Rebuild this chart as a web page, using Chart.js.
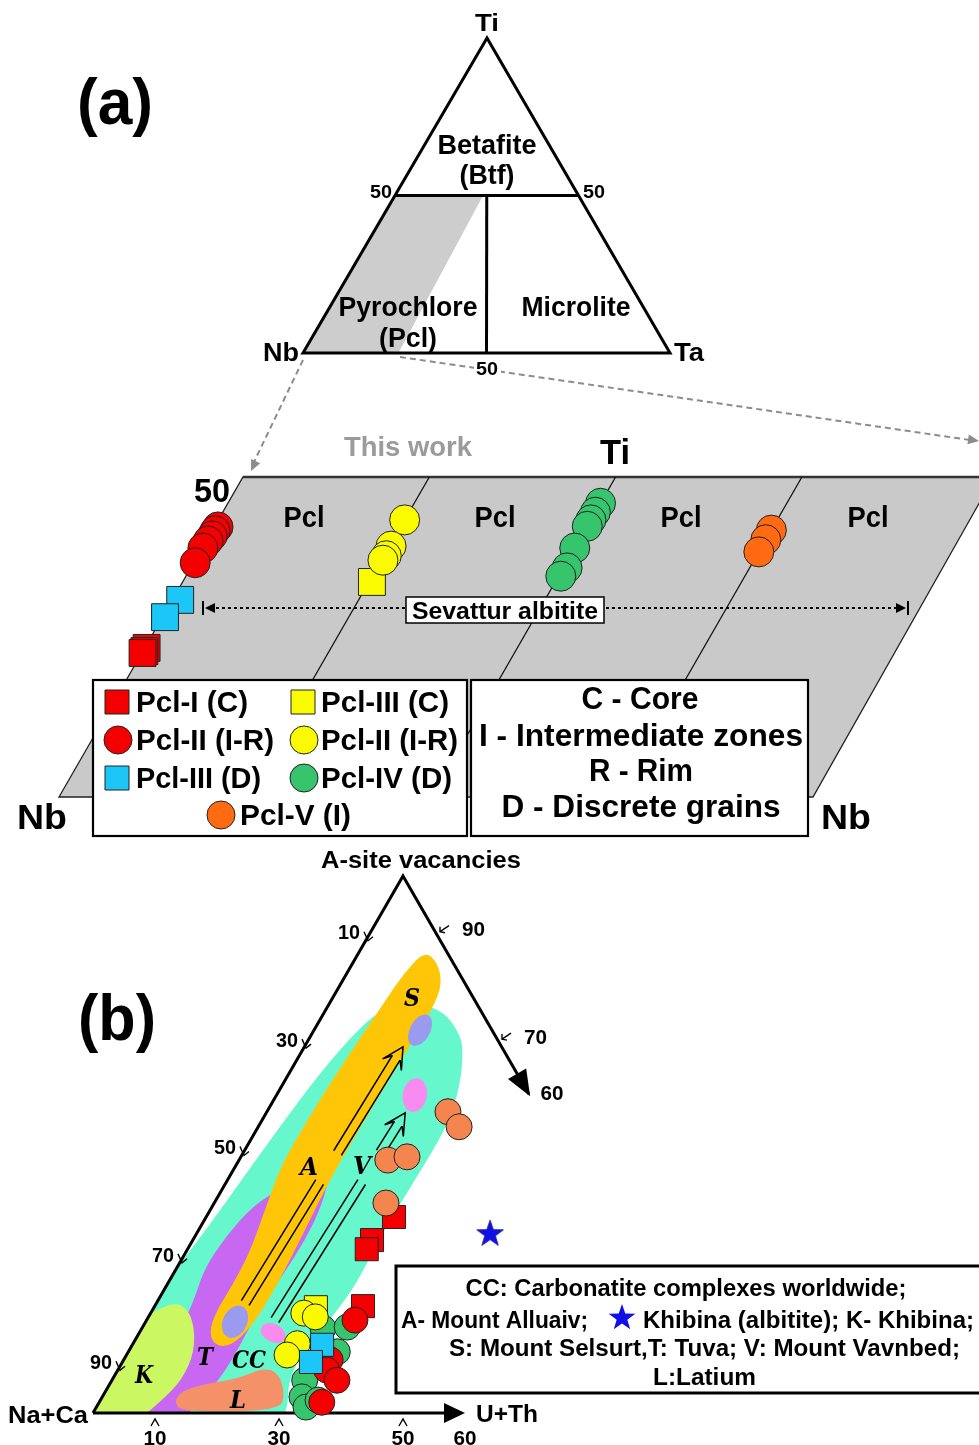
<!DOCTYPE html>
<html lang="en">
<head>
<meta charset="utf-8">
<title>Pyrochlore compositions – Sevattur albitite</title>
<script src="https://cdn.jsdelivr.net/npm/chart.js@4.4.1/dist/chart.umd.min.js"></script>
<style>
  html, body { margin: 0; padding: 0; background: #ffffff; }
  canvas { display: block; }
</style>
</head>
<body>
<canvas id="fig" width="979" height="1445" style="width:979px;height:1445px"></canvas>
<script>
// ================= DATA =================
// (a) Ti–Nb–Ta classification: pyrochlore field boundary (Ti %, Ta %)
const pclField_ti = [0, 50, 50, 0];
const pclField_ta = [0, 0, 24, 26];

// (a) Sevattur albitite pyrochlore, Ti (%) and Ta (%) on the Nb–Ti join strip
const pclI_C_ti   = [23.3, 22.8, 22.5];
const pclI_C_ta   = [0.5, 0.4, 0.2];
const pclII_IR_ti = [42.2, 41.6, 40.8, 40.0, 38.9, 36.6];
const pclII_IR_ta = [1.0, 0.8, 0.8, 0.5, 0.2, 0.4];
const pclIII_D_ti = [30.8, 28.1];
const pclIII_D_ta = [2.1, 0.7];
const pclIIy_IR_ti = [43.3, 39.2, 37.7, 37.0];
const pclIIy_IR_ta = [0.0, 0.4, 0.6, 0.4];
const pclIII_C_ti = [33.6];
const pclIII_C_ta = [0.8];
const pclIV_D_ti  = [45.9, 44.5, 43.3, 42.3, 38.9, 35.8, 34.5];
const pclIV_D_ta  = [0.0, 0.0, 0.0, 0.0, 0.0, 1.0, 0.6];
const pclV_I_ti   = [41.7, 40.2, 38.3];
const pclV_I_ta   = [0.0, 0.0, 0.0];

// (b) A-site vacancies – (Na+Ca) – (U+Th): u = U+Th %, a = A-site vacancies %
const bPclV_u   = [29.2, 32.4, 24.0, 26.8, 27.7];
const bPclV_a   = [56.1, 53.3, 47.1, 47.7, 39.1];
const bPclI_u   = [30.3, 28.9, 28.9, 33.6];
const bPclI_a   = [36.5, 32.2, 30.5, 19.9];
const bPclIIIc_u = [26.1];
const bPclIIIc_a = [19.7];
const bPclIIy_u = [24.7, 26.9, 26.5, 25.9];
const bPclIIy_a = [18.6, 17.9, 12.9, 10.8];
const bPclIIId_u = [30.6, 30.4];
const bPclIIId_a = [12.7, 9.5];
const bPclIV_u  = [29.2, 33.0, 33.7, 31.1, 32.2, 33.8, 35.1];
const bPclIV_a  = [15.8, 16.0, 11.4, 6.1, 3.0, 1.1, 2.4];
const bPclIIr_u = [33.6, 33.3, 33.7, 36.3, 35.9];
const bPclIIr_a = [17.3, 9.9, 8.0, 6.1, 2.0];
const khibina_u = [47.3];
const khibina_a = [33.5];

// (b) comparison fields (u, a)
const fieldCC_u = [7.3, 9.4, 13.7, 19.4, 24.0, 25.9, 28.7, 30.5, 30.2, 29.9, 30.5, 29.6, 28.0, 28.8, 31, 31, 5, -3, 0.7, 2.9, 4.9];
const fieldCC_a = [72.3, 75.4, 76.5, 74.7, 70.4, 67.6, 61.1, 53.3, 42.8, 32.8, 24.2, 17.3, 10.8, 5.2, 1, -3, -3, 14, 29.8, 49.0, 63.5];
const fieldT_u = [15.8, 17.6, 18.1, 17.8, 17.2, 17.3, 17.5, 17.1, 15.6, 15, 4, 5.8, 6.2, 6.2, 5.7, 4.5, 5.0, 6.5, 9.5, 12.6];
const fieldT_a = [44.9, 38.7, 32.2, 26.3, 20.1, 14.5, 9.9, 5.2, 1, -3, -3, 5.2, 10.8, 17.3, 21.4, 27.0, 33.0, 38.5, 42.0, 44.9];
const fieldSA_u = [10.5, 13.5, 16.0, 17.0, 17.0, 16.8, 16.6, 16.5, 16.5, 17.0, 17.5, 17.8, 17.5, 16.0, 13.5, 11.2, 10.4, 10.6, 10.3, 8.8, 7.3, 7.3, 7.6, 8.2, 8.8, 9.2];
const fieldSA_a = [86.0, 84.0, 80.5, 77.0, 72.0, 66.0, 58.0, 50.0, 43.0, 36.0, 29.0, 22.0, 16.0, 12.5, 12.5, 15.0, 19.0, 24.0, 30.0, 38.0, 46.0, 54.0, 62.0, 70.0, 77.0, 82.0];
const fieldK_u = [-4, -3, 1.0, 3.7, 7.3, 10.6, 11.3, 9.8, 7];
const fieldK_a = [-3, 16, 19.5, 20.7, 17.7, 11.7, 6.2, 2.0, -3];
const fieldL_u = [12.1, 14.7, 20.5, 23.1, 26.0, 29.0, 30.0, 14.7, 12.2];
const fieldL_a = [3.9, 5.2, 6.5, 8.4, 7.6, 3.9, 0.4, 0.2, 1.7];
// small sub-fields (centres)
const blobs_u = [17.1, 22.3, 14.4, 21.6];
const blobs_a = [71.3, 59.2, 17.0, 14.9];
// evolution trends (tail → tip), Alluaiv and Vavnbed
const trendA_u = [14.3, 15.9];
const trendA_a = [20.5, 68.2];
const trendV_u = [20.7, 22.4];
const trendV_a = [17.3, 55.9];

// tick labels
const leftTicks  = [10, 30, 50, 70, 90];   // Na+Ca
const rightTicks = [90, 70];               // A-site vacancies
const baseTicks  = [10, 30, 50];           // U+Th

// ================= LAYOUT =================
const W = 979, H = 1445;
const FONT = '"Liberation Sans", Arial, Helvetica, sans-serif';
const T_TI = [487, 38], T_NB = [303, 353], T_TA = [670, 353];
function triPt(ti, ta) {
  const nb = 100 - ti - ta;
  return [(nb * T_NB[0] + ti * T_TI[0] + ta * T_TA[0]) / 100,
          (nb * T_NB[1] + ti * T_TI[1] + ta * T_TA[1]) / 100];
}
const STRIP = { top: 477, bottom: 797, x0: 243, panelW: 186.3, slope: 0.575, tiMax: 50, taPx: 3.73 };
function stripPt(panel, ti, ta) {
  const y = STRIP.bottom - (STRIP.bottom - STRIP.top) * ti / STRIP.tiMax;
  const x = STRIP.x0 + STRIP.panelW * panel - STRIP.slope * (y - STRIP.top) + STRIP.taPx * ta;
  return [x, y];
}
const TB = { x0: 93, y0: 1413, side: 620, h: 537 };
function ternPt(u, a) {
  return [TB.x0 + TB.side * (u + a / 2) / 100, TB.y0 - TB.h * a / 100];
}

const COL = {
  red: '#f50000', yellow: '#fbfb00', cyan: '#1cc6f6', green: '#36c46c',
  orangeA: '#ff6a12', orangeB: '#f4854e', blue: '#1010e6',
  cc: '#66f8cc', sa: '#ffc608', t: '#c867f2', k: '#cbf763', l: '#f59169',
  lav: '#9a9aee', pink: '#f98bf0'
};

// ================= DRAWING HELPERS =================
function starPath(ctx, cx, cy, R, r) {
  ctx.beginPath();
  for (let i = 0; i < 10; i++) {
    const ang = -Math.PI / 2 + i * Math.PI / 5;
    const rad = i % 2 === 0 ? R : r;
    const x = cx + rad * Math.cos(ang), y = cy + rad * Math.sin(ang);
    if (i === 0) ctx.moveTo(x, y); else ctx.lineTo(x, y);
  }
  ctx.closePath();
}
const starImg = document.createElement('canvas');
starImg.width = 30; starImg.height = 30;
(function () {
  const c = starImg.getContext('2d');
  starPath(c, 15, 16, 14, 5.6);
  c.fillStyle = COL.blue; c.fill();
  c.strokeStyle = '#1a1a80'; c.lineWidth = 0.8; c.stroke();
})();

const decor = {
  id: 'decor',
  beforeDatasetsDraw(chart) {
    const ctx = chart.ctx;
    const xs = chart.scales.x, ys = chart.scales.y;
    const P = p => [xs.getPixelForValue(p[0]), ys.getPixelForValue(p[1])];
    const tracePts = (pts, close) => {
      ctx.beginPath();
      pts.forEach((p, i) => { const q = P(p); if (i) ctx.lineTo(q[0], q[1]); else ctx.moveTo(q[0], q[1]); });
      if (close) ctx.closePath();
    };
    const seg = (pts, lw, color, dash) => {
      ctx.save(); ctx.lineWidth = lw; ctx.strokeStyle = color || '#000';
      ctx.setLineDash(dash || []); tracePts(pts, false); ctx.stroke(); ctx.restore();
    };
    const smoothFill = (pts, fill) => {
      const q = pts.map(P), n = q.length;
      const mid = (a, b) => [(a[0] + b[0]) / 2, (a[1] + b[1]) / 2];
      const m0 = mid(q[n - 1], q[0]);
      ctx.beginPath(); ctx.moveTo(m0[0], m0[1]);
      for (let i = 0; i < n; i++) {
        const m = mid(q[i], q[(i + 1) % n]);
        ctx.quadraticCurveTo(q[i][0], q[i][1], m[0], m[1]);
      }
      ctx.closePath(); ctx.fillStyle = fill; ctx.fill();
    };
    const text = (s, p, size, o = {}) => {
      const q = P(p);
      ctx.save();
      ctx.font = o.font || `bold ${size}px ${FONT}`;
      ctx.fillStyle = o.color || '#000';
      ctx.textBaseline = 'middle'; ctx.textAlign = 'left';
      const m = ctx.measureText(s).width;
      const w = o.w || m;
      const left = o.align === 'left' ? q[0] : o.align === 'right' ? q[0] - w : q[0] - w / 2;
      ctx.translate(left, q[1] + (o.dy || 2));
      ctx.scale(w / m, 1);
      ctx.fillText(s, 0, 0);
      ctx.restore();
    };
    const head = (from, to, len, half, color) => {
      const a = P(from), b = P(to);
      const dx = b[0] - a[0], dy = b[1] - a[1], L = Math.hypot(dx, dy);
      const ux = dx / L, uy = dy / L;
      ctx.beginPath();
      ctx.moveTo(b[0], b[1]);
      ctx.lineTo(b[0] - ux * len - uy * half, b[1] - uy * len + ux * half);
      ctx.lineTo(b[0] - ux * len + uy * half, b[1] - uy * len - ux * half);
      ctx.closePath(); ctx.fillStyle = color || '#000'; ctx.fill();
    };
    const rectBox = (x0, y0, x1, y1, lw) => {
      const a = P([x0, y0]), b = P([x1, y1]);
      ctx.fillStyle = '#fff'; ctx.fillRect(a[0], a[1], b[0] - a[0], b[1] - a[1]);
      ctx.lineWidth = lw; ctx.strokeStyle = '#000'; ctx.setLineDash([]);
      ctx.strokeRect(a[0], a[1], b[0] - a[0], b[1] - a[1]);
    };
    const marker = (shape, p, size, fill) => {
      const q = P(p);
      ctx.save(); ctx.fillStyle = fill; ctx.strokeStyle = '#222'; ctx.lineWidth = 1;
      ctx.beginPath();
      if (shape === 'rect') ctx.rect(q[0] - size / 2, q[1] - size / 2, size, size);
      else ctx.arc(q[0], q[1], size, 0, Math.PI * 2);
      ctx.fill(); ctx.stroke(); ctx.restore();
    };
    ctx.save();
    ctx.lineJoin = 'miter'; ctx.lineCap = 'butt';

    // ---------------- (a) classification triangle ----------------
    ctx.fillStyle = '#cdcdcd';
    tracePts(pclField_ti.map((t, i) => triPt(t, pclField_ta[i])), true); ctx.fill();
    ctx.lineWidth = 3; ctx.strokeStyle = '#000';
    tracePts([triPt(100, 0), triPt(0, 0), triPt(0, 100)], true); ctx.stroke();
    seg([triPt(50, 0), triPt(50, 50)], 3);
    seg([triPt(50, 25), triPt(0, 50)], 3);
    text('Ti', [487, 22], 24, { w: 24 });
    text('Betafite', [487, 145], 27, { w: 99 });
    text('(Btf)', [487, 175], 27, { w: 55 });
    text('50', [381, 191], 18, { w: 22 });
    text('50', [594, 191], 18, { w: 22 });
    text('Pyrochlore', [408, 307], 27, { w: 139 });
    text('(Pcl)', [408, 338], 27, { w: 58 });
    text('Microlite', [576, 307], 27, { w: 109 });
    text('Nb', [281, 352], 26, { w: 36 });
    text('Ta', [689, 352], 26, { w: 30 });

    // connectors to the enlarged strip
    seg([[303, 360], [254, 462]], 2, '#8c8c8c', [6, 4]);
    head([303, 360], [251, 471], 11, 5, '#8c8c8c');
    seg([[400, 357], [970, 440]], 2, '#8c8c8c', [6, 4]);
    head([400, 357], [979, 441], 11, 5, '#8c8c8c');
    { const a = P([474, 360]), b = P([501, 377]); ctx.fillStyle = '#fff'; ctx.fillRect(a[0], a[1], b[0] - a[0], b[1] - a[1]); }
    text('50', [487, 368], 18, { w: 22 });

    // ---------------- (a) enlarged Nb–Ti strip ----------------
    ctx.fillStyle = '#c9c9c9';
    tracePts([[243, 477], [994, 477], [813, 797], [59, 797]], true); ctx.fill();
    ctx.lineWidth = 1.3; ctx.strokeStyle = '#222'; ctx.stroke();
    seg([[243, 477], [994, 477]], 2.5, '#333');
    for (let k = 1; k <= 3; k++) seg([stripPt(k, 50, 0), stripPt(k, 0, 0)], 1.3, '#111');
    text('This work', [408, 446], 28, { w: 128, color: '#9b9b9b' });
    text('Ti', [615, 452], 35, { w: 30 });
    text('50', [212, 491], 33, { w: 36 });
    [304, 495, 681, 868].forEach(x => text('Pcl', [x, 517], 29, { w: 41 }));
    text('Nb', [42, 817], 35, { w: 50 });
    text('Nb', [846, 817], 35, { w: 50 });

    // Sevattur albitite range
    seg([[216, 608], [896, 608]], 2, '#000', [3, 3]);
    head([300, 608], [205, 608], 10, 5);
    head([800, 608], [906, 608], 10, 5);
    seg([[203, 601], [203, 615]], 2);
    seg([[908, 601], [908, 615]], 2);
    rectBox(406, 597, 604, 623, 1.5);
    text('Sevattur albitite', [505, 610], 24, { w: 186 });

    // legend boxes
    rectBox(93, 680, 467, 836, 2.2);
    rectBox(471, 680, 808, 836, 2.2);
    marker('rect', [117, 702], 24, COL.red);
    marker('rect', [303, 702], 24, COL.yellow);
    marker('circle', [118, 740], 14, COL.red);
    marker('circle', [304, 740], 14, COL.yellow);
    marker('rect', [117, 778], 24, COL.cyan);
    marker('circle', [304, 778], 14, COL.green);
    marker('circle', [221, 815], 14, COL.orangeA);
    const lg = 30;
    text('Pcl-I (C)', [136, 702], lg, { w: 112, align: 'left' });
    text('Pcl-III (C)', [321, 702], lg, { w: 128, align: 'left' });
    text('Pcl-II (I-R)', [136, 740], lg, { w: 138, align: 'left' });
    text('Pcl-II (I-R)', [321, 740], lg, { w: 137, align: 'left' });
    text('Pcl-III (D)', [136, 778], lg, { w: 125, align: 'left' });
    text('Pcl-IV (D)', [321, 778], lg, { w: 131, align: 'left' });
    text('Pcl-V (I)', [240, 815], lg, { w: 111, align: 'left' });
    text('C - Core', [640, 698], 31, { w: 117 });
    text('I - Intermediate zones', [641, 735], 31, { w: 324 });
    text('R - Rim', [641, 770], 31, { w: 104 });
    text('D - Discrete grains', [641, 806], 31, { w: 279 });

    // ---------------- (b) fields ----------------
    ctx.save();
    tracePts([ternPt(0, 0), ternPt(100, 0), ternPt(0, 100)], true); ctx.clip();
    const field = (u, a, c) => smoothFill(u.map((v, i) => ternPt(v, a[i])), c);
    field(fieldCC_u, fieldCC_a, COL.cc);
    field(fieldT_u, fieldT_a, COL.t);
    field(fieldSA_u, fieldSA_a, COL.sa);
    field(fieldK_u, fieldK_a, COL.k);
    field(fieldL_u, fieldL_a, COL.l);
    const blobStyle = [
      { c: COL.lav, rx: 10, ry: 17, rot: 0.5 },
      { c: COL.pink, rx: 12, ry: 17, rot: 0.18 },
      { c: COL.lav, rx: 12, ry: 17, rot: 0.45 },
      { c: COL.pink, rx: 13, ry: 9, rot: 0.45 }
    ];
    blobs_u.forEach((u, i) => {
      const q = P(ternPt(u, blobs_a[i])), s = blobStyle[i];
      ctx.beginPath(); ctx.ellipse(q[0], q[1], s.rx, s.ry, s.rot, 0, Math.PI * 2);
      ctx.fillStyle = s.c; ctx.fill();
    });
    ctx.restore();

    // trends: double-lined open arrows, interrupted by their labels
    const trend = (u, a, gapLo, gapHi) => {
      const t = P(ternPt(u[0], a[0])), h = P(ternPt(u[1], a[1]));
      const dx = h[0] - t[0], dy = h[1] - t[1], L = Math.hypot(dx, dy);
      const ux = dx / L, uy = dy / L, nx = -uy, ny = ux, g = 4.5;
      const at = s => [t[0] + ux * s, t[1] + uy * s];
      const fLo = (gapLo - a[0]) / (a[1] - a[0]) * L, fHi = (gapHi - a[0]) / (a[1] - a[0]) * L;
      ctx.save(); ctx.strokeStyle = '#000'; ctx.lineWidth = 1.5;
      [[0, fLo], [fHi, L - 13]].forEach(([s0, s1]) => {
        [-1, 1].forEach(sg => {
          const p0 = at(s0), p1 = at(s1);
          ctx.beginPath();
          ctx.moveTo(p0[0] + nx * g * sg, p0[1] + ny * g * sg);
          ctx.lineTo(p1[0] + nx * g * sg, p1[1] + ny * g * sg);
          ctx.stroke();
        });
      });
      const b = at(L - 13), w = at(L - 21);
      ctx.beginPath();
      ctx.moveTo(b[0] + nx * g, b[1] + ny * g);
      ctx.lineTo(w[0] + nx * 11, w[1] + ny * 11);
      ctx.lineTo(h[0], h[1]);
      ctx.lineTo(w[0] - nx * 11, w[1] - ny * 11);
      ctx.lineTo(b[0] - nx * g, b[1] - ny * g);
      ctx.stroke();
      ctx.restore();
    };
    trend(trendA_u, trendA_a, 43, 48.4);
    trend(trendV_u, trendV_a, 43, 48.5);

    const fl = `italic bold 24px "DejaVu Serif", "Liberation Serif", serif`;
    text('S', [412, 998], 24, { font: fl, w: 16 });
    text('A', [309, 1167], 24, { font: fl, w: 18 });
    text('V', [362, 1166], 24, { font: fl, w: 18 });
    text('K', [144, 1375], 24, { font: fl, w: 18 });
    text('T', [205, 1357], 24, { font: fl, w: 16 });
    text('CC', [249, 1360], 24, { font: fl, w: 34 });
    text('L', [238, 1400], 24, { font: fl, w: 16 });

    // ---------------- (b) axes ----------------
    seg([ternPt(0, 0), ternPt(0, 100), ternPt(40.6, 59.4)], 3);
    head(ternPt(0, 100), ternPt(41, 59), 26, 10.5);
    seg([ternPt(0, 0), ternPt(57, 0)], 3);
    head(ternPt(0, 0), ternPt(60, 0), 21, 10);

    leftTicks.forEach(v => {
      const e = ternPt(0, 100 - v), q = P(e);
      ctx.save(); ctx.lineWidth = 1.4; ctx.strokeStyle = '#000';
      ctx.beginPath(); ctx.moveTo(q[0] - 8, q[1] + 2); ctx.lineTo(q[0] - 4, q[1] + 11); ctx.lineTo(q[0] + 1, q[1] + 7); ctx.stroke();
      ctx.restore();
      text(String(v), [e[0] - 23, e[1] + 2], 21, { w: 22 });
    });
    rightTicks.forEach(v => {
      const e = ternPt(100 - v, v), q = P(e);
      ctx.save(); ctx.lineWidth = 1.4; ctx.strokeStyle = '#000';
      ctx.beginPath(); ctx.moveTo(q[0] + 15, q[1] - 4); ctx.lineTo(q[0] + 6, q[1] + 2); ctx.stroke();
      ctx.beginPath(); ctx.moveTo(q[0] + 6, q[1] - 3); ctx.lineTo(q[0] + 6, q[1] + 2); ctx.lineTo(q[0] + 11, q[1] + 3); ctx.stroke();
      ctx.restore();
      text(String(v), [e[0] + 28, e[1] - 1], 21, { w: 23, align: 'left', dy: 2 });
    });
    text('60', [552, 1092], 21, { w: 23 });
    baseTicks.forEach(v => {
      const e = ternPt(v, 0), q = P(e);
      ctx.save(); ctx.lineWidth = 1.4; ctx.strokeStyle = '#000';
      ctx.beginPath(); ctx.moveTo(q[0] - 4, q[1] + 13); ctx.lineTo(q[0], q[1] + 6); ctx.lineTo(q[0] + 4, q[1] + 13); ctx.stroke();
      ctx.restore();
      text(String(v), [e[0], 1437], 21, { w: 23 });
    });
    text('60', [ternPt(60, 0)[0], 1437], 21, { w: 23 });
    text('A-site vacancies', [421, 860], 23, { w: 200 });
    text('Na+Ca', [48, 1415], 23, { w: 80 });
    text('U+Th', [507, 1414], 23, { w: 62 });

    // ---------------- (b) legend ----------------
    rectBox(396, 1266, 992, 1393, 3);
    const lb = 23;
    text('CC: Carbonatite complexes worldwide;', [686, 1288], lb, { w: 441 });
    text('A- Mount Alluaiv;', [401, 1320], lb, { w: 187, align: 'left' });
    { const q = P([622, 1318]); starPath(ctx, q[0], q[1], 14, 5.6); ctx.fillStyle = COL.blue; ctx.fill(); }
    text('Khibina (albitite); K- Khibina;', [643, 1320], lb, { w: 331, align: 'left' });
    text('S: Mount Selsurt,T: Tuva; V: Mount Vavnbed;', [449, 1348], lb, { w: 511, align: 'left' });
    text('L:Latium', [653, 1377], lb, { w: 103, align: 'left' });

    // panel letters
    text('(a)', [115, 104], 64, { w: 76 });
    text('(b)', [117, 1020], 64, { w: 78 });
    ctx.restore();
  }
};

// ================= CHART =================
const aPts = (panel, ti, ta) => ti.map((v, i) => { const p = stripPt(panel, v, ta[i]); return { x: p[0], y: p[1] }; });
const bPts = (u, a) => u.map((v, i) => { const p = ternPt(v, a[i]); return { x: p[0], y: p[1] }; });
function marks(label, data, shape, radius, fill, order) {
  return {
    label, data, order, showLine: false,
    pointStyle: shape, pointRadius: radius, pointHoverRadius: radius,
    pointBackgroundColor: fill, backgroundColor: fill,
    pointBorderColor: '#222', borderColor: '#222', pointBorderWidth: 1
  };
}

const datasets = [
  // (a)
  marks('Pcl-II (I-R)', aPts(0, pclII_IR_ti, pclII_IR_ta), 'circle', 15, COL.red, 1),
  marks('Pcl-I (C)', aPts(0, pclI_C_ti, pclI_C_ta), 'rect', 19, COL.red, 2),
  marks('Pcl-III (D)', aPts(0, pclIII_D_ti, pclIII_D_ta), 'rect', 19, COL.cyan, 2),
  marks('Pcl-II (I-R) yellow', aPts(1, pclIIy_IR_ti, pclIIy_IR_ta), 'circle', 15, COL.yellow, 1),
  marks('Pcl-III (C)', aPts(1, pclIII_C_ti, pclIII_C_ta), 'rect', 19, COL.yellow, 3),
  marks('Pcl-IV (D)', aPts(2, pclIV_D_ti, pclIV_D_ta), 'circle', 15, COL.green, 1),
  marks('Pcl-V (I)', aPts(3, pclV_I_ti, pclV_I_ta), 'circle', 15, COL.orangeA, 1),
  // (b)
  marks('b Pcl-V', bPts(bPclV_u, bPclV_a), 'circle', 13, COL.orangeB, 10),
  marks('b Pcl-III (D)', bPts(bPclIIId_u, bPclIIId_a), 'rect', 16.3, COL.cyan, 11),
  marks('b Pcl-II yellow', bPts(bPclIIy_u, bPclIIy_a), 'circle', 13, COL.yellow, 12),
  marks('b Pcl-II red', bPts(bPclIIr_u, bPclIIr_a), 'circle', 13, COL.red, 13),
  marks('b Pcl-I', bPts(bPclI_u, bPclI_a), 'rect', 16.3, COL.red, 14),
  marks('b Pcl-III (C)', bPts(bPclIIIc_u, bPclIIIc_a), 'rect', 16.3, COL.yellow, 15),
  marks('b Pcl-IV', bPts(bPclIV_u, bPclIV_a), 'circle', 13, COL.green, 16),
  { label: 'Khibina (albitite)', data: bPts(khibina_u, khibina_a), showLine: false, order: 9,
    pointStyle: starImg, pointRadius: 14, pointHoverRadius: 14 }
];

new Chart(document.getElementById('fig'), {
  type: 'scatter',
  data: { datasets },
  options: {
    responsive: false,
    animation: false,
    devicePixelRatio: 1,
    events: [],
    layout: { padding: 0, autoPadding: false },
    scales: {
      x: { type: 'linear', min: 0, max: W, display: false },
      y: { type: 'linear', min: 0, max: H, reverse: true, display: false }
    },
    plugins: { legend: { display: false }, tooltip: { enabled: false } }
  },
  plugins: [decor]
});
</script>
</body>
</html>
